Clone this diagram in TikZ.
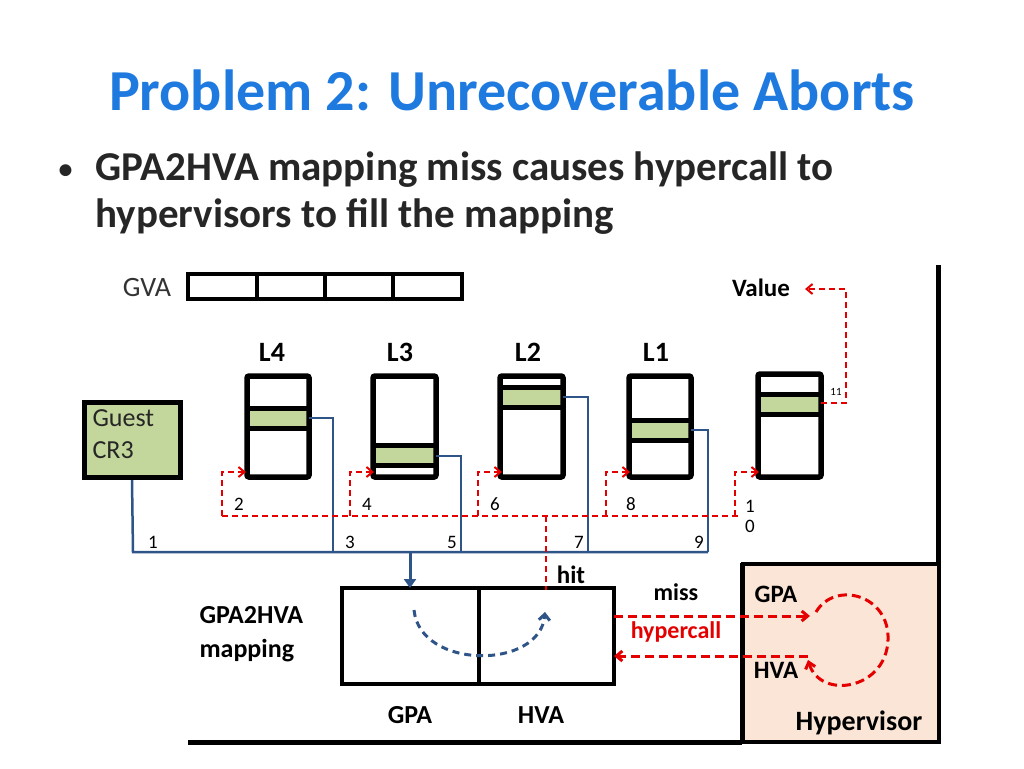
\documentclass[tikz,border=0pt]{standalone}
\usepackage{fontspec}
\setmainfont{Carlito}
\usetikzlibrary{arrows.meta}
\definecolor{ttl}{HTML}{1F7AE0}
\definecolor{grn}{HTML}{C3D69B}
\definecolor{bl}{HTML}{2F5487}
\definecolor{peach}{HTML}{FBE5D6}
\begin{document}
\begin{tikzpicture}[x=1pt,y=-1pt,
 pt/.style={draw,line width=5.5pt},
 bln/.style={bl,line width=2.5pt},
 rdl/.style={red!90!black,line width=2pt,dash pattern=on 6pt off 4pt},
 rda/.style={rdl,-{Straight Barb[length=6pt,width=10pt]}},
 num/.style={font=\fontsize{19}{19}\selectfont},
 lab/.style={font=\bfseries\fontsize{28}{28}\selectfont},
 bul/.style={font=\bfseries\fontsize{41}{41}\selectfont,text=black!85,anchor=west}]
\useasboundingbox (0,0) rectangle (1024,768);
\node[font=\bfseries\fontsize{58}{58}\selectfont,text=ttl] (title) at (512,90) {Problem 2: Unrecoverable Aborts};
\node[bul,font=\bfseries\fontsize{28}{28}\selectfont] (b0) at (55,172) {•};
\node[bul] (b1) at (92,170) {GPA2HVA mapping miss causes hypercall to};
\node[bul] (b2) at (92,217) {hypervisors to fill the mapping};
\node[font=\fontsize{28}{28}\selectfont,text=black!80] (gva) at (147,288) {GVA};
\draw[line width=4pt] (188,274) rectangle (462,299) (257,274)--(257,299) (325,274)--(325,299) (393,274)--(393,299);
\node[lab,font=\bfseries\fontsize{25}{25}\selectfont] (value) at (761,288) {Value};
\foreach \t/\x in {L4/272,L3/400,L2/528,L1/656} \node[lab] (lab\t) at (\x,352) {\t};
\foreach \a/\b/\c in {247/309/418,373/436/455,500/563/397,629/691/430,758/821/404}
 {\fill[grn] (\a,\c-8) rectangle (\b,\c+8); \draw[line width=5pt] (\a,\c-10)--(\b,\c-10) (\a,\c+10)--(\b,\c+10);}
\draw[pt,rounded corners=2pt] (247,376) rectangle (309,477);
\draw[pt,rounded corners=2pt] (373,376) rectangle (436,477);
\draw[pt,rounded corners=2pt] (500,376) rectangle (563,477);
\draw[pt,rounded corners=2pt] (629,376) rectangle (691,477);
\draw[pt,rounded corners=2pt] (758,374) rectangle (821,477);
\node[draw,line width=5pt,fill=grn,minimum width=96pt,minimum height=75pt,inner sep=0pt] (cr3) at (132,440) {};
\node[font=\fontsize{26}{32}\selectfont,align=left,anchor=north west,text=black!85] (cr3t) at (89,406) {Guest\\CR3};
\draw[bln] (cr3.south) -- (133,552) -- (708,552);
\draw[bln] (309,418) -- (333,418) -- (333,552);
\draw[bln] (436,456) -- (461,456) -- (461,552);
\draw[bln] (563,397) -- (588,397) -- (588,552);
\draw[bln] (691,430) -- (708,430) -- (708,552);
\draw[line width=3.5pt] (342,588) rectangle (614,684) (479,588)--(479,684);
\coordinate (mtop) at (410,588);
\draw[bln,line width=3pt,-{Triangle[length=9pt,width=12pt]}] (410,552) -- (mtop);
\draw[bl,line width=3pt,dash pattern=on 7pt off 5pt,-{Straight Barb[length=6pt,width=11pt]}] (414,610) .. controls (420,670) and (540,670) .. (545,612);
\draw[rdl] (222,516) -- (740,516);
\foreach \x in {222,350,478,606,735} \draw[rda] (\x,516) -- (\x,472) -- (\x+24,472);
\draw[rdl] (546,516) -- (546,590);
\draw[rda] (821,403) -- (846,403) -- (846,289) -- (805,289);
\node[font=\fontsize{11}{11}\selectfont] (n11) at (836,392) {11};
\foreach \t/\x in {2/239,4/367,6/495,8/631} \node[num] at (\x,504) {\t};
\node[num,align=center] (n10) at (750,516) {1\\[1pt]0};
\foreach \t/\x in {1/153,3/350,5/452,7/579,9/699} \node[num] at (\x,542) {\t};
\node[lab,font=\bfseries\fontsize{25}{25}\selectfont] (hit) at (571,575) {hit};
\node[lab,align=left,anchor=west,font=\bfseries\fontsize{26}{34}\selectfont] (map) at (196,634) {GPA2HVA\\mapping};
\node[lab,font=\bfseries\fontsize{26}{26}\selectfont] (gpa) at (410,715) {GPA};
\node[lab,font=\bfseries\fontsize{26}{26}\selectfont] (hva) at (541,715) {HVA};
\draw[line width=5pt] (938,265) -- (938,563);
\draw[line width=5pt] (188,742) -- (742,742);
\node[draw,line width=3.5pt,fill=peach,minimum width=196pt,minimum height=178pt,inner sep=0pt] (hv) at (841,653) {};
\draw[line width=5pt] (742,563) -- (742,742);
\node[lab,font=\bfseries\fontsize{25}{25}\selectfont] (hgpa) at (776,594) {GPA};
\node[lab,font=\bfseries\fontsize{25}{25}\selectfont] (hhva) at (776,670) {HVA};
\node[lab] (hvt) at (859,723) {Hypervisor};
\draw[rda,line width=3pt,dash pattern=on 9pt off 5pt] (614,616) -- (810,616);
\draw[rda,line width=3pt,dash pattern=on 9pt off 5pt] (808,656) -- (614,656);
\node[lab,font=\bfseries\fontsize{24}{24}\selectfont] (miss) at (676,592) {miss};
\node[lab,font=\bfseries\fontsize{24}{24}\selectfont,text=red!90!black] (hc) at (676,632) {hypercall};
\draw[rda,line width=3pt,dash pattern=on 9pt off 5pt] (816,612) .. controls (835,580) and (890,595) .. (888,640) .. controls (886,690) and (820,700) .. (808,660);
\end{tikzpicture}
\end{document}
